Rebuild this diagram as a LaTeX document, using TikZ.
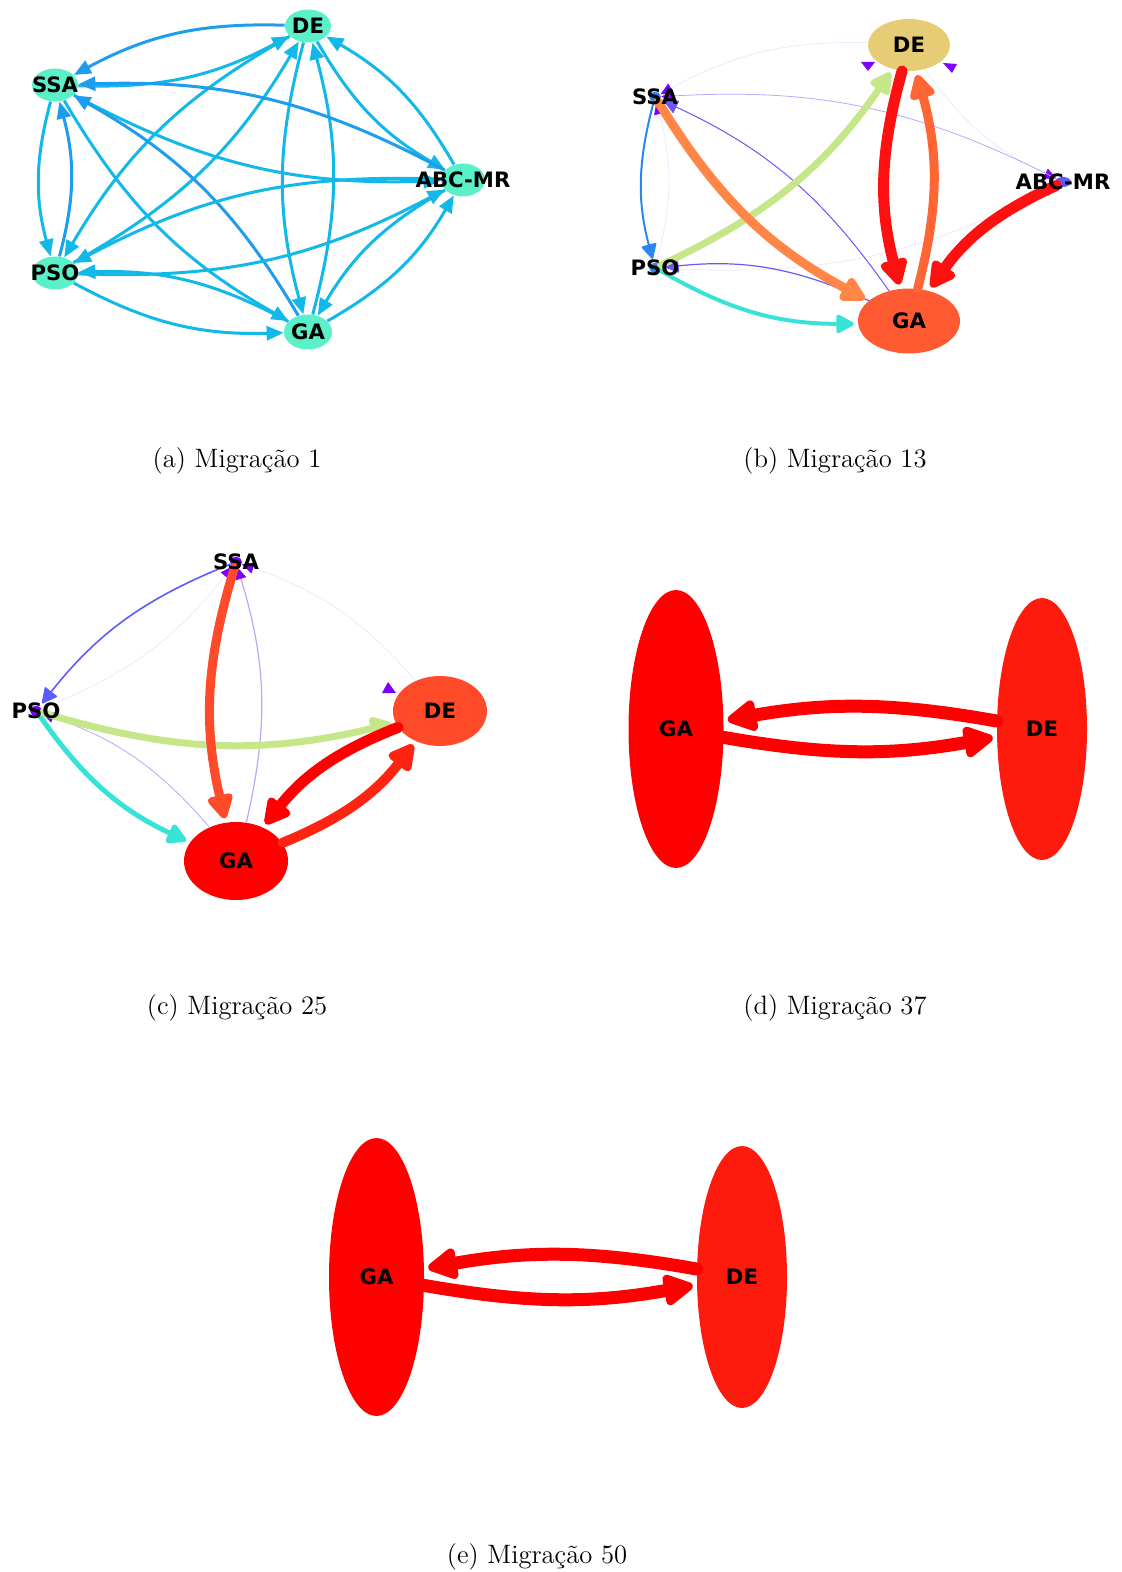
\documentclass[tikz,border=0pt]{standalone}
\usepackage{fontspec}
\newfontfamily\nodefont{DejaVu Sans}
\usetikzlibrary{arrows.meta, shapes.geometric}
\definecolor{mintc}{HTML}{5CF0C8}
\definecolor{skyc}{HTML}{12B8E8}
\definecolor{skydk}{HTML}{1E9CEE}
\definecolor{khakic}{HTML}{E6CC75}
\definecolor{coralc}{HTML}{FF5A32}
\definecolor{hotc}{HTML}{FF1010}
\definecolor{flamec}{HTML}{FF4B2A}
\definecolor{scarc}{HTML}{FF2412}
\definecolor{crimc}{HTML}{FF1A0E}
\definecolor{tangc}{HTML}{FF6633}
\definecolor{apric}{HTML}{FF8646}
\definecolor{limec}{HTML}{C6E68A}
\definecolor{aquac}{HTML}{36E3D6}
\definecolor{bluec}{HTML}{2A86F2}
\definecolor{indigoc}{HTML}{5B5BFF}
\definecolor{purpc}{HTML}{7255F5}
\definecolor{lavc}{HTML}{BBA6FA}
\definecolor{ghostc}{HTML}{EEE8FE}
\definecolor{violc}{HTML}{7B00FF}
\tikzset{
  algo/.style={ellipse, draw=none, inner sep=0pt},
  tiny/.style={ellipse, draw=none, inner sep=0pt, minimum width=6pt, minimum height=5pt},
  lbl/.style={font=\nodefont\bfseries\fontsize{10.6}{12}\selectfont, text=black, inner sep=0pt},
  subcap/.style={font=\fontsize{13.3}{16}\selectfont, inner sep=0pt},
  allflow/.style={line width=1.5pt, -{Triangle[length=8.5pt, width=7pt]}},
  link/.style={line cap=round, shorten >=2pt, -{Triangle[round, length=#1, width=#1]}},
  ghost/.style={line width=0.4pt, ghostc, -{Triangle[length=6pt, width=5.5pt, color=violc]}},
}

\begin{document}
\begin{tikzpicture}[x=0.5pt, y=-0.5pt]
\useasboundingbox (0,0) rectangle (1122,1572);

% (a) first migration: every pair exchanges in both directions
\node[algo, fill=mintc, minimum width=23pt, minimum height=16.5pt] (a-de) at (308,26) {};
\node[algo, fill=mintc, minimum width=23pt, minimum height=16.5pt] (a-ssa) at (55,85) {};
\node[algo, fill=mintc, minimum width=22pt, minimum height=16.5pt] (a-abc) at (463,180) {};
\node[algo, fill=mintc, minimum width=23pt, minimum height=16.5pt] (a-pso) at (55,273) {};
\node[algo, fill=mintc, minimum width=24pt, minimum height=17.5pt] (a-ga) at (308,332) {};
\foreach \u/\v/\cuv/\cvu in {de/ssa/skydk/skyc, de/abc/skyc/skyc, de/pso/skyc/skyc, de/ga/skyc/skyc,
    ssa/abc/skyc/skydk, ssa/pso/skyc/skydk, ssa/ga/skyc/skydk, abc/pso/skyc/skyc,
    abc/ga/skyc/skyc, pso/ga/skyc/skyc} {
  \draw[allflow, \cuv] (a-\u) to[bend right=15] (a-\v);
  \draw[allflow, \cvu] (a-\v) to[bend right=15] (a-\u);
}
\foreach \n/\t in {de/DE, ssa/SSA, abc/ABC-MR, pso/PSO, ga/GA}
  \node[lbl] at (a-\n) {\t};
\node[subcap] at (237,461) {(a) Migração 1};

% (b) migration 13
\node[algo, fill=khakic, minimum width=41pt, minimum height=26pt] (b-de) at (909,45) {};
\node[algo, fill=coralc, minimum width=51pt, minimum height=32.5pt] (b-ga) at (909,321) {};
\node[tiny, fill=bluec] (b-ssa) at (655,97) {};
\node[tiny, fill=bluec] (b-pso) at (655,268) {};
\node[tiny, fill=indigoc, minimum width=8pt] (b-abc) at (1063,182) {};
\draw[ghost] (b-de) to[bend right=15] (b-ssa);
\draw[ghost] (b-de) to[bend right=15] (b-abc);
\draw[ghost] (b-pso) to[bend right=15] (b-abc);
\draw[ghost] (b-pso) to[bend right=15] (b-ssa);
\draw[ghost, lavc] (b-abc) to[bend right=15] (b-ssa);
\draw[link=7pt, line width=0.5pt, purpc] (b-ga) to[bend right=15] (b-ssa);
\draw[link=7pt, line width=0.6pt, purpc] (b-ga) to[bend right=15] (b-pso);
\draw[link=8pt, line width=1pt, bluec] (b-ssa) to[bend right=15] (b-pso);
\draw[link=10pt, line width=2pt, aquac] (b-pso) to[bend right=15] (b-ga);
\draw[link=12.5pt, line width=3.5pt, limec] (b-pso) to[bend right=15] (b-de);
\draw[link=14pt, line width=4.5pt, apric] (b-ssa) to[bend right=15] (b-ga);
\draw[link=14pt, line width=4.5pt, tangc] (b-ga) to[bend right=15] (b-de);
\draw[link=15pt, line width=5.5pt, hotc] (b-de) to[bend right=15] (b-ga);
\draw[link=15pt, line width=5.5pt, hotc] (b-abc) to[bend right=15] (b-ga);
\fill[violc] (861,62) -- (875,62) -- (868,71) -- cycle;
\fill[violc] (943,63) -- (957,64) -- (952,73) -- cycle;
\foreach \n/\t in {de/DE, ssa/SSA, abc/ABC-MR, pso/PSO, ga/GA}
  \node[lbl] at (b-\n) {\t};
\node[subcap] at (835,461) {(b) Migração 13};

% (c) migration 25
\node[algo, fill=flamec, minimum width=47pt, minimum height=35pt] (c-de) at (440,711) {};
\node[algo, fill=red, minimum width=52pt, minimum height=39pt] (c-ga) at (236,861) {};
\node[tiny, fill=violc] (c-ssa) at (236,562) {};
\node[tiny, fill=violc] (c-pso) at (36,711) {};
\draw[ghost] (c-de) to[bend right=15] (c-ssa);
\draw[ghost] (c-pso) to[bend right=15] (c-ssa);
\draw[ghost, lavc] (c-ga) to[bend right=15] (c-pso);
\draw[ghost, lavc, line width=0.6pt] (c-ga) to[bend right=15] (c-ssa);
\draw[link=8pt, line width=0.8pt, indigoc] (c-ssa) to[bend right=15] (c-pso);
\draw[link=11pt, line width=2.5pt, aquac] (c-pso) to[bend right=15] (c-ga);
\draw[link=12.5pt, line width=3.5pt, limec] (c-pso) to[bend right=15] (c-de);
\draw[link=14pt, line width=4.5pt, flamec] (c-ssa) to[bend right=15] (c-ga);
\draw[link=15pt, line width=5pt, scarc] (c-ga) to[bend right=15] (c-de);
\draw[link=15pt, line width=5.5pt, red] (c-de) to[bend right=15] (c-ga);
\fill[violc] (388,682) -- (396,693) -- (382,693) -- cycle;
\foreach \n/\t in {de/DE, ssa/SSA, pso/PSO, ga/GA}
  \node[lbl] at (c-\n) {\t};
\node[subcap] at (237,1008) {(c) Migração 25};

% (d) migration 37
\node[algo, fill=red, minimum width=47.5pt, minimum height=139pt] (d-ga) at (676,729) {};
\node[algo, fill=crimc, minimum width=45pt, minimum height=131pt] (d-de) at (1042,729) {};
\draw[link=17pt, line width=6.5pt, red] (d-de) to[bend right=10] (d-ga);
\draw[link=17pt, line width=6.5pt, red] (d-ga) to[bend right=10] (d-de);
\node[lbl] at (d-ga) {GA};
\node[lbl] at (d-de) {DE};
\node[subcap] at (835,1008) {(d) Migração 37};

% (e) migration 50
\node[algo, fill=red, minimum width=47.5pt, minimum height=139pt] (e-ga) at (376.5,1277) {};
\node[algo, fill=crimc, minimum width=45pt, minimum height=131pt] (e-de) at (742,1277) {};
\draw[link=17pt, line width=6.5pt, red] (e-de) to[bend right=10] (e-ga);
\draw[link=17pt, line width=6.5pt, red] (e-ga) to[bend right=10] (e-de);
\node[lbl] at (e-ga) {GA};
\node[lbl] at (e-de) {DE};
\node[subcap] at (537,1557) {(e) Migração 50};
\end{tikzpicture}
\end{document}
